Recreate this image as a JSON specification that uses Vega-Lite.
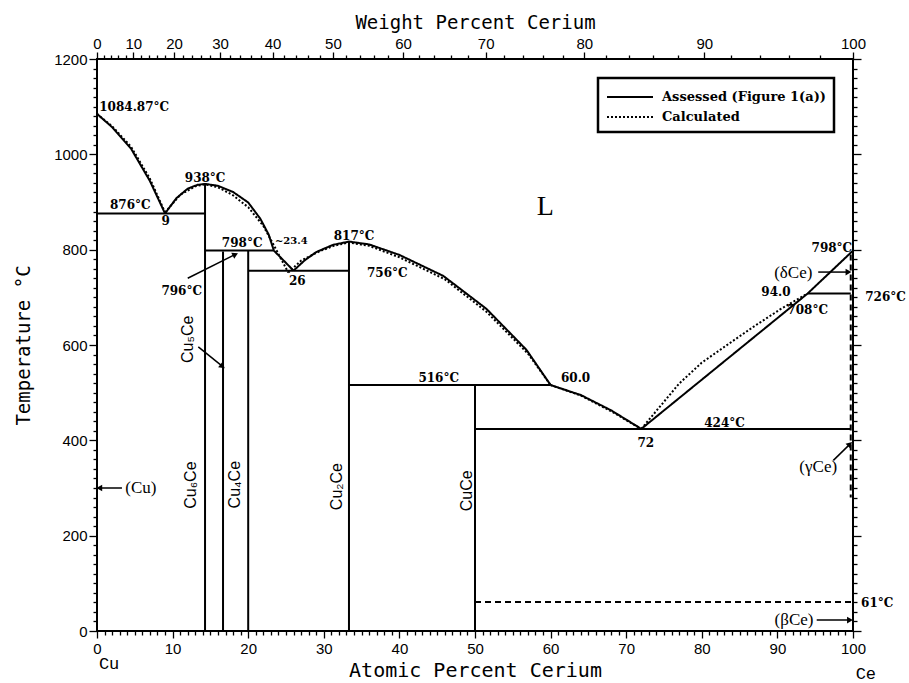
{
"$schema": "https://vega.github.io/schema/vega-lite/v6.json",
"width": 756, "height": 572,
"autosize": {"type": "none"},
"padding": {"left": 97, "top": 59, "right": 56, "bottom": 52},
"background": "white",
"config": {
  "view": {"stroke": "black", "strokeWidth": 2},
  "axis": {"domain": false, "grid": false, "tickColor": "black", "tickWidth": 1.3, "labelColor": "black", "titleColor": "black",
           "labelFont": "Liberation Sans Narrow, Liberation Sans", "labelFontSize": 15, "labelFlush": false, "labelOverlap": false,
           "titleFont": "DejaVu Sans Mono", "titleFontWeight": "normal"},
  "legend": {"orient": "none", "legendX": 501, "legendY": 19, "direction": "vertical", "symbolType": "M-1,0L3.6,0", "symbolSize": 400,
             "symbolStrokeWidth": 2, "symbolStrokeColor": "black", "labelFont": "DejaVu Serif", "labelFontWeight": "bold", "labelFontSize": 13,
             "labelColor": "black", "padding": 8, "rowPadding": 2, "strokeColor": "black", "strokeWidth": 2.5, "fillColor": "white", "labelOffset": 34, "labelLimit": 400}
},
"datasets": {
  "lines": [
    {"s":"c1","type":"Calculated","x":0,"T":1084.87},{"s":"c1","type":"Calculated","x":2,"T":1059},{"s":"c1","type":"Calculated","x":4.5,"T":1016},{"s":"c1","type":"Calculated","x":7,"T":949},{"s":"c1","type":"Calculated","x":9,"T":878},
    {"s":"c2","type":"Calculated","x":9,"T":878},{"s":"c2","type":"Calculated","x":11,"T":915},{"s":"c2","type":"Calculated","x":13,"T":933},{"s":"c2","type":"Calculated","x":14.29,"T":937},{"s":"c2","type":"Calculated","x":16,"T":931},{"s":"c2","type":"Calculated","x":18,"T":914},{"s":"c2","type":"Calculated","x":20,"T":889},{"s":"c2","type":"Calculated","x":22,"T":850},{"s":"c2","type":"Calculated","x":23.5,"T":806},{"s":"c2","type":"Calculated","x":24.5,"T":776},{"s":"c2","type":"Calculated","x":25.3,"T":752},
    {"s":"c3","type":"Calculated","x":25.3,"T":752},{"s":"c3","type":"Calculated","x":27,"T":777},{"s":"c3","type":"Calculated","x":29.5,"T":797},{"s":"c3","type":"Calculated","x":31.5,"T":809},{"s":"c3","type":"Calculated","x":33.33,"T":815},{"s":"c3","type":"Calculated","x":36,"T":808},{"s":"c3","type":"Calculated","x":40,"T":784},{"s":"c3","type":"Calculated","x":46,"T":738},{"s":"c3","type":"Calculated","x":51.5,"T":670},{"s":"c3","type":"Calculated","x":57,"T":582},{"s":"c3","type":"Calculated","x":60,"T":516},
    {"s":"c4","type":"Calculated","x":60,"T":516},{"s":"c4","type":"Calculated","x":64,"T":494},{"s":"c4","type":"Calculated","x":68,"T":461},{"s":"c4","type":"Calculated","x":72,"T":424},
    {"s":"c5","type":"Calculated","x":72,"T":424},{"s":"c5","type":"Calculated","x":74,"T":462},{"s":"c5","type":"Calculated","x":77,"T":519},{"s":"c5","type":"Calculated","x":80,"T":563},{"s":"c5","type":"Calculated","x":83.7,"T":604},{"s":"c5","type":"Calculated","x":87,"T":640},{"s":"c5","type":"Calculated","x":90.3,"T":674},{"s":"c5","type":"Calculated","x":94,"T":708},
    {"s":"liq1","type":"Assessed (Figure 1(a))","x":0,"T":1084.87},{"s":"liq1","type":"Assessed (Figure 1(a))","x":2,"T":1057},{"s":"liq1","type":"Assessed (Figure 1(a))","x":4.5,"T":1012},{"s":"liq1","type":"Assessed (Figure 1(a))","x":7,"T":944},{"s":"liq1","type":"Assessed (Figure 1(a))","x":9,"T":876},
    {"s":"liq2","type":"Assessed (Figure 1(a))","x":9,"T":876},{"s":"liq2","type":"Assessed (Figure 1(a))","x":10.5,"T":908},{"s":"liq2","type":"Assessed (Figure 1(a))","x":12,"T":928},{"s":"liq2","type":"Assessed (Figure 1(a))","x":13.3,"T":936},{"s":"liq2","type":"Assessed (Figure 1(a))","x":14.29,"T":938},{"s":"liq2","type":"Assessed (Figure 1(a))","x":16,"T":934},{"s":"liq2","type":"Assessed (Figure 1(a))","x":18,"T":921},{"s":"liq2","type":"Assessed (Figure 1(a))","x":20,"T":899},{"s":"liq2","type":"Assessed (Figure 1(a))","x":21.6,"T":865},{"s":"liq2","type":"Assessed (Figure 1(a))","x":22.7,"T":832},{"s":"liq2","type":"Assessed (Figure 1(a))","x":23.4,"T":798},
    {"s":"liq3","type":"Assessed (Figure 1(a))","x":23.4,"T":798},{"s":"liq3","type":"Assessed (Figure 1(a))","x":26,"T":756},
    {"s":"liq4","type":"Assessed (Figure 1(a))","x":26,"T":756},{"s":"liq4","type":"Assessed (Figure 1(a))","x":27.5,"T":778},{"s":"liq4","type":"Assessed (Figure 1(a))","x":29,"T":795},{"s":"liq4","type":"Assessed (Figure 1(a))","x":31.2,"T":810},{"s":"liq4","type":"Assessed (Figure 1(a))","x":33.33,"T":817},{"s":"liq4","type":"Assessed (Figure 1(a))","x":36,"T":811},{"s":"liq4","type":"Assessed (Figure 1(a))","x":40,"T":789},{"s":"liq4","type":"Assessed (Figure 1(a))","x":45.8,"T":745},{"s":"liq4","type":"Assessed (Figure 1(a))","x":51.5,"T":676},{"s":"liq4","type":"Assessed (Figure 1(a))","x":56.8,"T":590},{"s":"liq4","type":"Assessed (Figure 1(a))","x":60,"T":516},
    {"s":"liq5","type":"Assessed (Figure 1(a))","x":60,"T":516},{"s":"liq5","type":"Assessed (Figure 1(a))","x":64,"T":495},{"s":"liq5","type":"Assessed (Figure 1(a))","x":68,"T":463},{"s":"liq5","type":"Assessed (Figure 1(a))","x":72,"T":424},
    {"s":"liq6","type":"Assessed (Figure 1(a))","x":72,"T":424},{"s":"liq6","type":"Assessed (Figure 1(a))","x":94,"T":708},{"s":"liq6","type":"Assessed (Figure 1(a))","x":100,"T":798},
    {"s":"h876","type":"Assessed (Figure 1(a))","x":0,"T":876},{"s":"h876","type":"Assessed (Figure 1(a))","x":14.29,"T":876},
    {"s":"h798","type":"Assessed (Figure 1(a))","x":14.29,"T":798},{"s":"h798","type":"Assessed (Figure 1(a))","x":23.4,"T":798},
    {"s":"h756","type":"Assessed (Figure 1(a))","x":20,"T":756},{"s":"h756","type":"Assessed (Figure 1(a))","x":33.33,"T":756},
    {"s":"h516","type":"Assessed (Figure 1(a))","x":33.33,"T":516},{"s":"h516","type":"Assessed (Figure 1(a))","x":60,"T":516},
    {"s":"h424","type":"Assessed (Figure 1(a))","x":50,"T":424},{"s":"h424","type":"Assessed (Figure 1(a))","x":99.7,"T":424},
    {"s":"h708","type":"Assessed (Figure 1(a))","x":94,"T":708},{"s":"h708","type":"Assessed (Figure 1(a))","x":99.7,"T":708},
    {"s":"v1","type":"Assessed (Figure 1(a))","x":14.29,"T":0},{"s":"v1","type":"Assessed (Figure 1(a))","x":14.29,"T":938},
    {"s":"v2","type":"Assessed (Figure 1(a))","x":16.67,"T":0},{"s":"v2","type":"Assessed (Figure 1(a))","x":16.67,"T":796},
    {"s":"v3","type":"Assessed (Figure 1(a))","x":20,"T":0},{"s":"v3","type":"Assessed (Figure 1(a))","x":20,"T":798},
    {"s":"v4","type":"Assessed (Figure 1(a))","x":33.33,"T":0},{"s":"v4","type":"Assessed (Figure 1(a))","x":33.33,"T":817},
    {"s":"v5","type":"Assessed (Figure 1(a))","x":50,"T":0},{"s":"v5","type":"Assessed (Figure 1(a))","x":50,"T":516},
    {"s":"d61","type":"Estimated","x":50,"T":61},{"s":"d61","type":"Estimated","x":100,"T":61},
    {"s":"dce","type":"Estimated","x":99.7,"T":790},{"s":"dce","type":"Estimated","x":99.7,"T":280}
  ],
  "arrows": [
    {"x":12.0,"T":740,"x2":18.3,"T2":790},
    {"x":13.4,"T":596,"x2":16.6,"T2":555},
    {"x":3.3,"T":300,"x2":0.3,"T2":300},
    {"x":95.4,"T":753,"x2":99.4,"T2":753},
    {"x":97.4,"T":358,"x2":99.6,"T2":392},
    {"x":95.2,"T":23,"x2":99.6,"T2":23}
  ],
  "labels": [
    {"x":0.3,"T":1100,"text":"1084.87°C","g":"left"},
    {"x":4.4,"T":893,"text":"876°C","g":"c"},
    {"x":9.1,"T":860,"text":"9","g":"c"},
    {"x":14.3,"T":950,"text":"938°C","g":"c"},
    {"x":19.2,"T":813,"text":"798°C","g":"c"},
    {"x":25.7,"T":818,"text":"~23.4","g":"small"},
    {"x":26.5,"T":735,"text":"26","g":"c"},
    {"x":34.0,"T":829,"text":"817°C","g":"c"},
    {"x":38.4,"T":752,"text":"756°C","g":"c"},
    {"x":11.2,"T":713,"text":"796°C","g":"c"},
    {"x":45.2,"T":531,"text":"516°C","g":"c"},
    {"x":63.3,"T":531,"text":"60.0","g":"c"},
    {"x":72.6,"T":395,"text":"72","g":"c"},
    {"x":83.0,"T":437,"text":"424°C","g":"c"},
    {"x":89.8,"T":711,"text":"94.0","g":"c"},
    {"x":94.0,"T":673,"text":"708°C","g":"c"},
    {"x":97.2,"T":803,"text":"798°C","g":"c"},
    {"x":104.3,"T":701,"text":"726°C","g":"c"},
    {"x":103.2,"T":59,"text":"61°C","g":"c"},
    {"x":92.1,"T":751,"text":"(δCe)","g":"phase"},
    {"x":95.4,"T":345,"text":"(γCe)","g":"phase"},
    {"x":92.2,"T":23,"text":"(βCe)","g":"phase"},
    {"x":5.8,"T":300,"text":"(Cu)","g":"phase"},
    {"x":59.3,"T":889,"text":"L","g":"L"},
    {"x":1.6,"T":-70,"text":"Cu","g":"el"},
    {"x":101.7,"T":-90,"text":"Ce","g":"el"},
    {"x":12.4,"T":306,"text":"Cu₆Ce","g":"rot"},
    {"x":12.1,"T":612,"text":"Cu₅Ce","g":"rot"},
    {"x":18.3,"T":307,"text":"Cu₄Ce","g":"rot"},
    {"x":31.8,"T":303,"text":"Cu₂Ce","g":"rot"},
    {"x":49.0,"T":294,"text":"CuCe","g":"rot"}
  ]
},
"resolve": {"axis": {"x": "independent", "y": "independent"}},
"layer": [
  {
    "data": {"name": "lines"},
    "transform": [{"filter": "datum.type !== 'Estimated'"}],
    "mark": {"type": "line", "strokeWidth": 2, "color": "black"},
    "encoding": {
      "x": {"field": "x", "type": "quantitative", "scale": {"domain": [0, 100], "nice": false},
            "axis": {"orient": "bottom", "title": "Atomic Percent Cerium", "titleFontSize": 20, "titleY": 45, "titleBaseline": "alphabetic",
                     "values": [0,1,2,3,4,5,6,7,8,9,10,11,12,13,14,15,16,17,18,19,20,21,22,23,24,25,26,27,28,29,30,31,32,33,34,35,36,37,38,39,40,41,42,43,44,45,46,47,48,49,50,51,52,53,54,55,56,57,58,59,60,61,62,63,64,65,66,67,68,69,70,71,72,73,74,75,76,77,78,79,80,81,82,83,84,85,86,87,88,89,90,91,92,93,94,95,96,97,98,99,100],
                     "tickSize": {"condition": {"test": "datum.value % 10 === 0", "value": 7}, "value": 4},
                     "labelExpr": "datum.value % 10 === 0 ? datum.label : ''", "labelPadding": 3, "format": "d"}},
      "y": {"field": "T", "type": "quantitative", "scale": {"domain": [0, 1200], "nice": false},
            "axis": {"orient": "left", "title": "Temperature °C", "titleFontSize": 19, "titleX": -68, "titleY": 286, "titleAngle": 270, "titleAlign": "center", "titleBaseline": "alphabetic",
                     "values": [0,20,40,60,80,100,120,140,160,180,200,220,240,260,280,300,320,340,360,380,400,420,440,460,480,500,520,540,560,580,600,620,640,660,680,700,720,740,760,780,800,820,840,860,880,900,920,940,960,980,1000,1020,1040,1060,1080,1100,1120,1140,1160,1180,1200],
                     "tickSize": {"condition": {"test": "datum.value % 200 === 0", "value": 8}, "value": 4},
                     "labelExpr": "datum.value % 200 === 0 ? datum.label : ''", "labelPadding": 2, "format": "d"}},
      "detail": {"field": "s"},
      "order": {"value": null},
      "strokeDash": {"field": "type", "type": "nominal", "scale": {"domain": ["Assessed (Figure 1(a))", "Calculated"], "range": [[1, 0], [2, 2]]}, "legend": {"title": null}}
    }
  },
  {
    "data": {"name": "lines"},
    "transform": [{"filter": "datum.type === 'Estimated'"}],
    "mark": {"type": "line", "strokeWidth": 2, "color": "black", "strokeDash": [6, 4]},
    "encoding": {
      "x": {"field": "x", "type": "quantitative", "scale": {"domain": [0, 100], "nice": false}, "axis": null},
      "y": {"field": "T", "type": "quantitative", "scale": {"domain": [0, 1200], "nice": false}, "axis": null},
      "detail": {"field": "s"},
      "order": {"value": null}
    }
  },
  {
    "data": {"name": "arrows"},
    "mark": {"type": "rule", "strokeWidth": 1.5, "color": "black"},
    "encoding": {
      "x": {"field": "x", "type": "quantitative", "scale": {"domain": [0, 100], "nice": false}, "axis": null},
      "y": {"field": "T", "type": "quantitative", "scale": {"domain": [0, 1200], "nice": false}, "axis": null},
      "x2": {"field": "x2"},
      "y2": {"field": "T2"}
    }
  },
  {
    "data": {"name": "arrows"},
    "transform": [{"calculate": "-atan2((datum.T2 - datum.T) * 0.4767, (datum.x2 - datum.x) * 7.56) * 180 / PI", "as": "ang"}],
    "mark": {"type": "point", "shape": "triangle-right", "filled": true, "color": "black", "size": 45, "opacity": 1},
    "encoding": {
      "x": {"field": "x2", "type": "quantitative", "scale": {"domain": [0, 100], "nice": false}, "axis": null},
      "y": {"field": "T2", "type": "quantitative", "scale": {"domain": [0, 1200], "nice": false}, "axis": null},
      "angle": {"field": "ang", "type": "quantitative", "scale": null}
    }
  },
  {
    "data": {"name": "labels"},
    "transform": [{"filter": "datum.g === 'c'"}],
    "mark": {"type": "text", "font": "DejaVu Serif", "fontWeight": "bold", "fontSize": 12, "align": "center", "baseline": "middle", "color": "black"},
    "encoding": {
      "x": {"field": "x", "type": "quantitative", "scale": {"domain": [0, 100], "nice": false},
            "axis": {"orient": "top", "title": "Weight Percent Cerium", "titleFontSize": 19, "titleY": -31, "titleBaseline": "alphabetic",
                     "values": [0,0.917,1.855,2.813,3.794,4.797,5.824,6.875,7.952,9.054,10.183,11.341,12.528,13.744,14.993,16.274,17.588,18.938,20.325,21.750,23.216,24.722,26.272,27.867,29.510,31.202,32.945,34.743,36.597,38.511,40.486,42.527,44.637,46.819,49.077,51.414,53.837,56.347,58.951,61.655,64.464,67.384,70.423,73.586,76.882,80.322,83.911,87.662,91.586,95.694,100],
                     "tickSize": {"condition": {"test": "round(100*datum.value*140.116/(datum.value*140.116+(100-datum.value)*63.546)) % 10 === 0", "value": 7}, "value": 4},
                     "labelExpr": "round(100*datum.value*140.116/(datum.value*140.116+(100-datum.value)*63.546)) % 10 === 0 ? '' + round(100*datum.value*140.116/(datum.value*140.116+(100-datum.value)*63.546)) : ''",
                     "labelPadding": 1}},
      "y": {"field": "T", "type": "quantitative", "scale": {"domain": [0, 1200], "nice": false},
            "axis": {"orient": "right", "title": null, "labels": false,
                     "values": [0,20,40,60,80,100,120,140,160,180,200,220,240,260,280,300,320,340,360,380,400,420,440,460,480,500,520,540,560,580,600,620,640,660,680,700,720,740,760,780,800,820,840,860,880,900,920,940,960,980,1000,1020,1040,1060,1080,1100,1120,1140,1160,1180,1200],
                     "tickSize": {"condition": {"test": "datum.value % 200 === 0", "value": 8}, "value": 4}}},
      "text": {"field": "text"}
    }
  },
  {
    "data": {"name": "labels"},
    "transform": [{"filter": "datum.g === 'left'"}],
    "mark": {"type": "text", "font": "DejaVu Serif", "fontWeight": "bold", "fontSize": 12, "align": "left", "baseline": "middle", "color": "black"},
    "encoding": {
      "x": {"field": "x", "type": "quantitative", "scale": {"domain": [0, 100], "nice": false}, "axis": null},
      "y": {"field": "T", "type": "quantitative", "scale": {"domain": [0, 1200], "nice": false}, "axis": null},
      "text": {"field": "text"}
    }
  },
  {
    "data": {"name": "labels"},
    "transform": [{"filter": "datum.g === 'small'"}],
    "mark": {"type": "text", "font": "DejaVu Serif", "fontWeight": "bold", "fontSize": 10, "align": "center", "baseline": "middle", "color": "black"},
    "encoding": {
      "x": {"field": "x", "type": "quantitative", "scale": {"domain": [0, 100], "nice": false}, "axis": null},
      "y": {"field": "T", "type": "quantitative", "scale": {"domain": [0, 1200], "nice": false}, "axis": null},
      "text": {"field": "text"}
    }
  },
  {
    "data": {"name": "labels"},
    "transform": [{"filter": "datum.g === 'phase'"}],
    "mark": {"type": "text", "font": "Liberation Serif", "fontSize": 17, "align": "center", "baseline": "middle", "color": "black"},
    "encoding": {
      "x": {"field": "x", "type": "quantitative", "scale": {"domain": [0, 100], "nice": false}, "axis": null},
      "y": {"field": "T", "type": "quantitative", "scale": {"domain": [0, 1200], "nice": false}, "axis": null},
      "text": {"field": "text"}
    }
  },
  {
    "data": {"name": "labels"},
    "transform": [{"filter": "datum.g === 'L'"}],
    "mark": {"type": "text", "font": "Liberation Serif", "fontSize": 28, "align": "center", "baseline": "middle", "color": "black"},
    "encoding": {
      "x": {"field": "x", "type": "quantitative", "scale": {"domain": [0, 100], "nice": false}, "axis": null},
      "y": {"field": "T", "type": "quantitative", "scale": {"domain": [0, 1200], "nice": false}, "axis": null},
      "text": {"field": "text"}
    }
  },
  {
    "data": {"name": "labels"},
    "transform": [{"filter": "datum.g === 'el'"}],
    "mark": {"type": "text", "font": "Liberation Mono", "fontSize": 17, "align": "center", "baseline": "middle", "color": "black"},
    "encoding": {
      "x": {"field": "x", "type": "quantitative", "scale": {"domain": [0, 100], "nice": false}, "axis": null},
      "y": {"field": "T", "type": "quantitative", "scale": {"domain": [0, 1200], "nice": false}, "axis": null},
      "text": {"field": "text"}
    }
  },
  {
    "data": {"name": "labels"},
    "transform": [{"filter": "datum.g === 'rot'"}],
    "mark": {"type": "text", "font": "Liberation Sans", "fontSize": 16, "align": "center", "baseline": "middle", "angle": 270, "color": "black"},
    "encoding": {
      "x": {"field": "x", "type": "quantitative", "scale": {"domain": [0, 100], "nice": false}, "axis": null},
      "y": {"field": "T", "type": "quantitative", "scale": {"domain": [0, 1200], "nice": false}, "axis": null},
      "text": {"field": "text"}
    }
  }
]
}
